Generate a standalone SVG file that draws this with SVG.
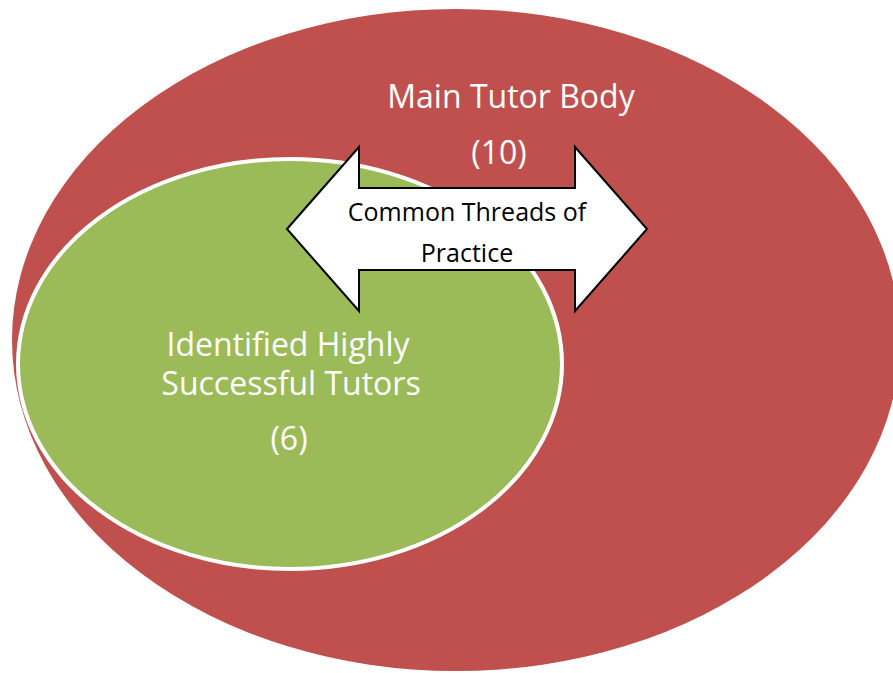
<svg xmlns="http://www.w3.org/2000/svg" width="893" height="673" viewBox="0 0 893 673">
<style>
.lbl{font-family:"Open Sans","Liberation Sans",sans-serif;fill:#ffffff;text-anchor:middle}
.big{font-size:32px}
.arr{font-family:"Open Sans","Liberation Sans",sans-serif;fill:#000000;font-size:25px;text-anchor:middle}
</style>
<rect width="893" height="673" fill="#ffffff"/>
<g id="main-tutor-body">
<ellipse cx="456" cy="340" rx="444" ry="331" fill="#C0504D"/>
<text class="lbl big" x="511" y="108">Main Tutor Body</text>
<text class="lbl big" x="499" y="164">(10)</text>
</g>
<g id="highly-successful">
<ellipse cx="290" cy="364" rx="272" ry="205" fill="#9BBB59" stroke="#ffffff" stroke-width="4"/>
<text class="lbl big" x="288" y="356">Identified Highly</text>
<text class="lbl big" x="291" y="395">Successful Tutors</text>
<text class="lbl big" x="289" y="450">(6)</text>
</g>
<g id="connectors">
<g id="common-threads">
<polygon points="287,229 359,147 359,188 575,188 575,147 647,229 575,311 575,270 359,270 359,311" fill="#ffffff" stroke="#000000" stroke-width="2" stroke-linejoin="miter"/>
<text class="arr" x="467" y="221">Common Threads of</text>
<text class="arr" x="467" y="262">Practice</text>
</g>
</g>
</svg>
